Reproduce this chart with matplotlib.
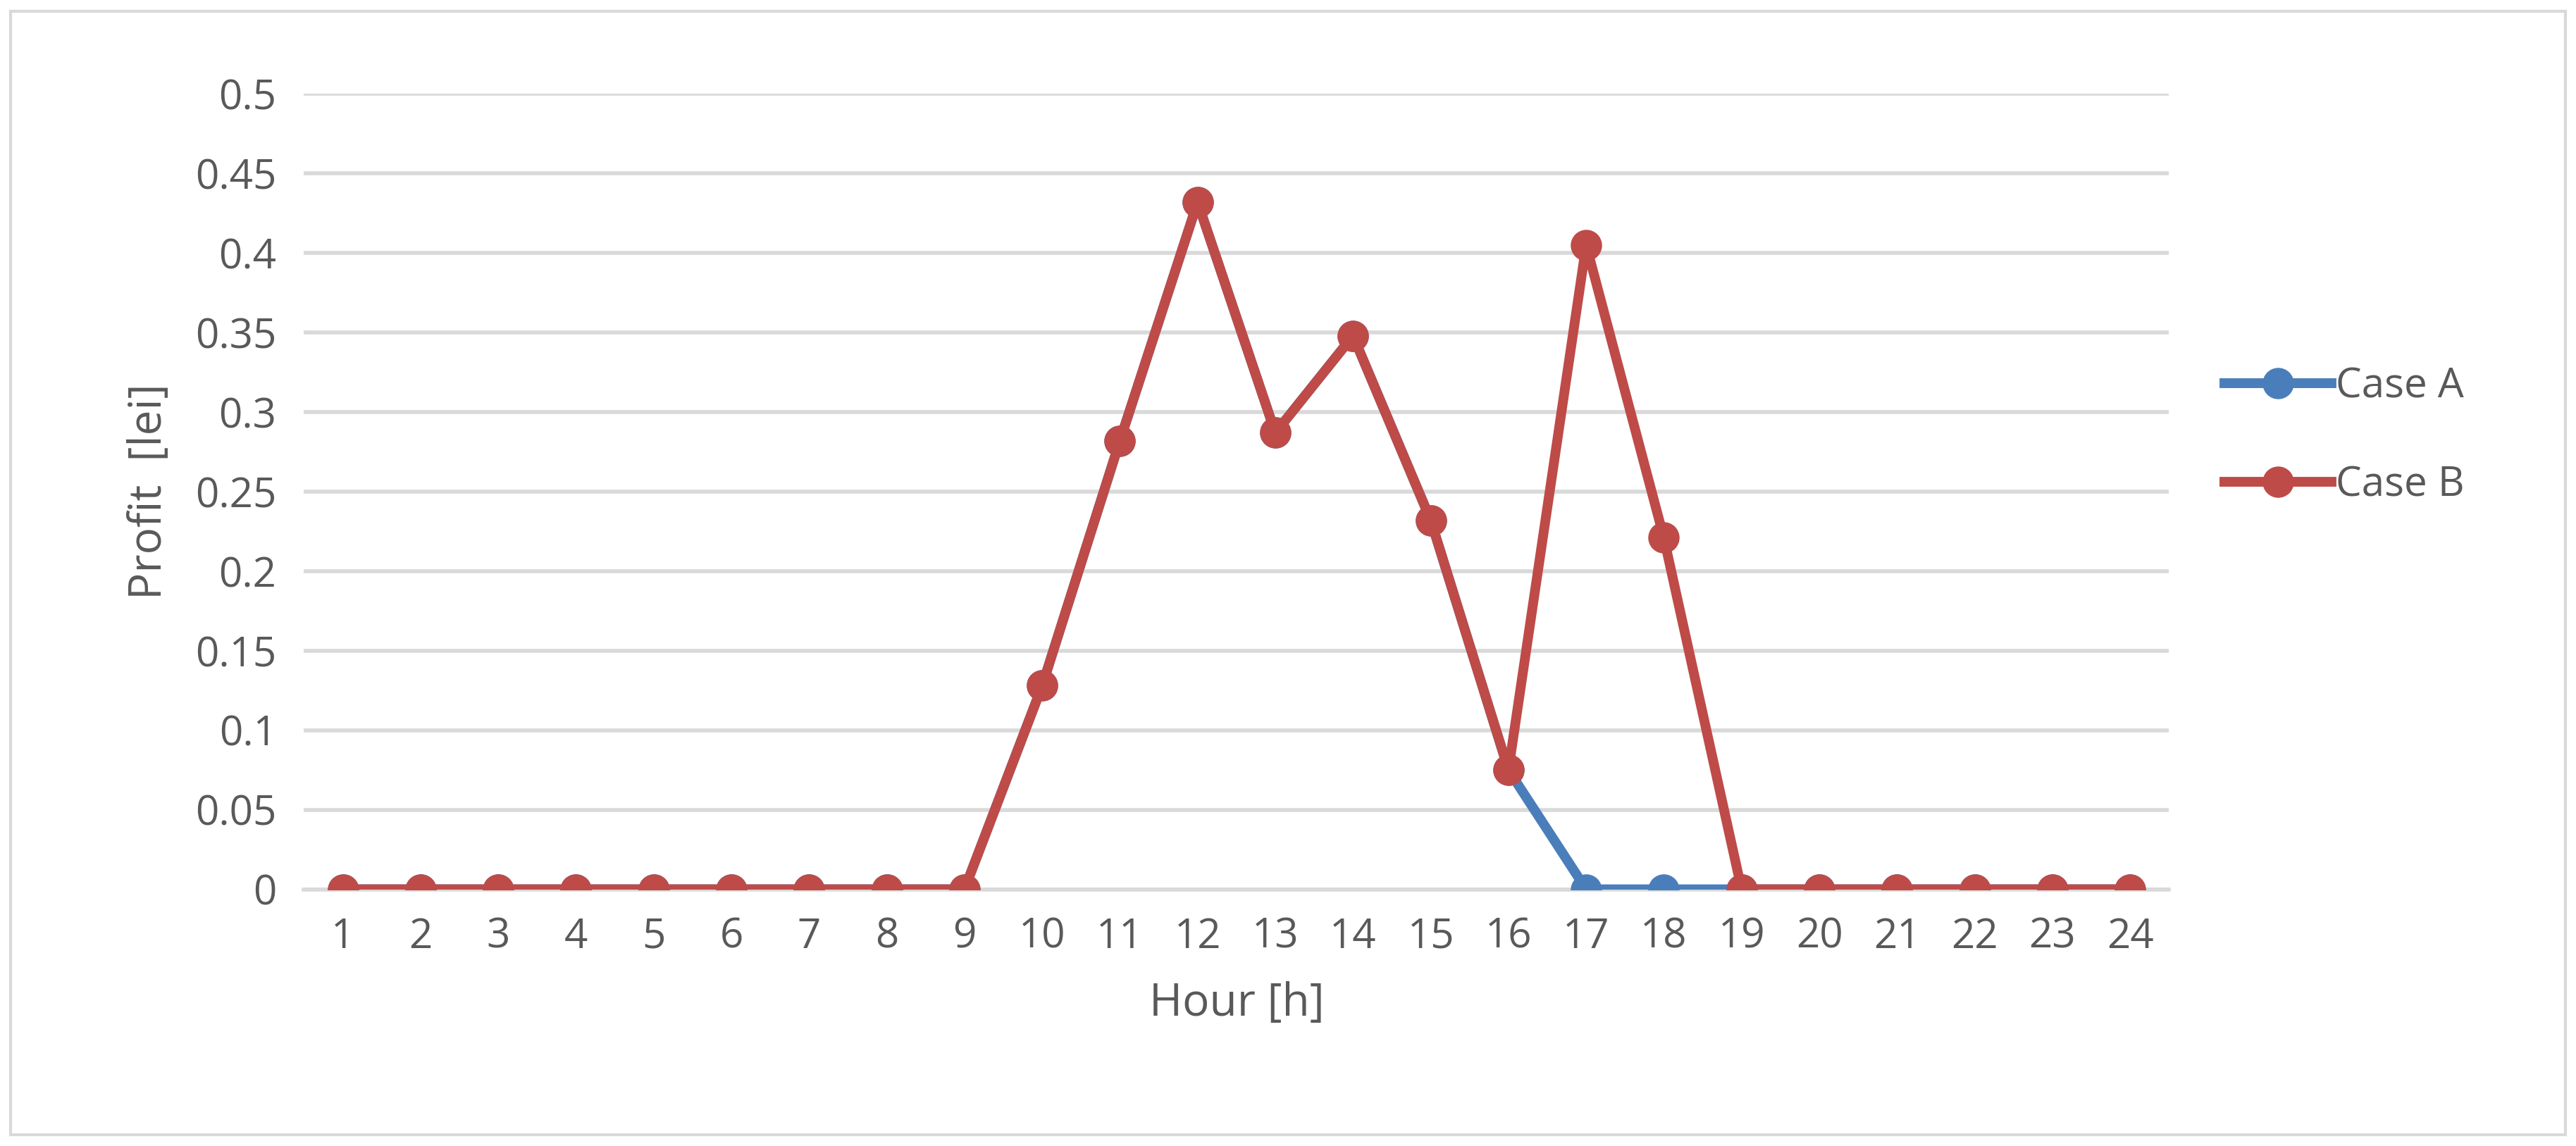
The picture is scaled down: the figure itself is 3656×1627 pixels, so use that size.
import numpy as np
import matplotlib.pyplot as plt
from matplotlib.patches import Rectangle

hours = list(range(1, 25))
case_a = [0, 0, 0, 0, 0, 0, 0, 0, 0, 0.128, 0.282, 0.432, 0.287, 0.348, 0.232, 0.075,
          0, 0, 0, 0, 0, 0, 0, 0]
case_b = [0, 0, 0, 0, 0, 0, 0, 0, 0, 0.128, 0.282, 0.432, 0.287, 0.348, 0.232, 0.075,
          0.405, 0.221, 0, 0, 0, 0, 0, 0]
yticks = [0, 0.05, 0.1, 0.15, 0.2, 0.25, 0.3, 0.35, 0.4, 0.45, 0.5]
ylabels = ["0", "0.05", "0.1", "0.15", "0.2", "0.25", "0.3", "0.35", "0.4", "0.45", "0.5"]

plt.rcParams['font.family'] = ['Open Sans', 'DejaVu Sans']
txt = "#595959"

fig = plt.figure(figsize=(18.28, 8.135), dpi=200)
ax = fig.add_axes([0.118, 0.224, 0.724, 0.694])

ax.plot(hours, case_a, color="#4A7EBB", lw=5, marker="o", ms=15, label="Case A", zorder=3)
ax.plot(hours, case_b, color="#BE4B48", lw=5, marker="o", ms=15, label="Case B", zorder=4)

ax.set_xlim(0.5, 24.5)
ax.set_ylim(0, 0.5)
ax.set_yticks(yticks, ylabels)
ax.set_xticks(hours)
ax.grid(axis="y", color="#D9D9D9", lw=2)
ax.set_axisbelow(True)
for s in ["left", "right", "top"]:
    ax.spines[s].set_visible(False)
ax.spines["bottom"].set_color("#D9D9D9")
ax.spines["bottom"].set_linewidth(2)
ax.tick_params(length=0, labelsize=21, labelcolor=txt, pad=14)
ax.set_xlabel("Hour [h]", fontsize=23, color=txt, labelpad=12)
ax.set_ylabel("Profit  [lei]", fontsize=23, color=txt, labelpad=12)

ax.legend(loc="center left", bbox_to_anchor=(1.01, 0.57), frameon=False,
          fontsize=21, labelcolor=txt, handlelength=2.6, labelspacing=1.4,
          handletextpad=0.1)

fig.patches.append(Rectangle((0.004, 0.01), 0.992, 0.98, transform=fig.transFigure,
                             fill=False, edgecolor="#D9D9D9", lw=1.5))

fig.savefig("out.png", dpi=200)
